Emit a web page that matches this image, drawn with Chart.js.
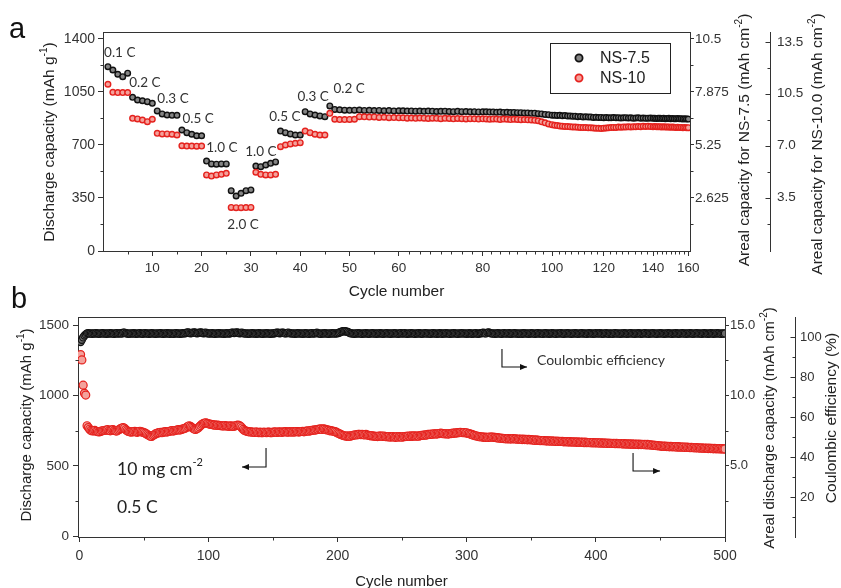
<!DOCTYPE html>
<html><head><meta charset="utf-8">
<script src="https://cdn.jsdelivr.net/npm/chart.js@4/dist/chart.umd.min.js"></script>
<style>
html,body{margin:0;padding:0;background:#fff;overflow:hidden;width:841px;height:588px;}
canvas{position:absolute;left:0;}
#ca{top:0px;} #cb{top:280px;}
</style></head><body>
<canvas id="ca" width="841" height="305"></canvas>
<canvas id="cb" width="841" height="312"></canvas>
<script>
// ---------------- DATA (panel a: rate capability) ----------------
const cyclesA = Array.from({length:160},(_,i)=>i+1);
const ns75 = [
1217,1195,1167,1151,1174,1015,997,992,986,975,
925,905,898,896,896,799,781,771,761,761,
594,575,573,575,575,398,363,381,398,403,
561,557,568,579,588,792,781,773,766,766,
920,905,898,892,887,958,935,932,930,929,
930,931,928,929,927,928,926,927,925,926,
926,924,925,923,924,922,924,923,921,922,
923,921,920,922,920,921,919,920,918,919,
919,917,918,916,917,915,916,914,915,913,
913,911,912,909,910,907,905,902,900,897,
897,895,896,893,894,891,892,889,890,887,
888,885,886,884,885,882,883,881,882,880,
881,879,880,881,879,880,878,879,880,878,
879,877,878,879,877,878,876,877,878,876,
877,875,876,877,875,876,874,875,876,874,
875,873,874,875,873,874,872,873,872,871];
const ns10 = [
1101,1048,1046,1046,1046,876,872,865,854,870,
777,773,773,771,766,695,693,693,692,693,
502,495,502,506,513,288,286,286,287,288,
520,506,502,502,506,689,700,707,711,715,
792,781,771,766,766,909,870,868,868,869,
870,887,886,884,885,882,883,880,881,879,
879,877,878,876,878,877,875,877,876,874,
876,875,873,875,874,872,874,873,871,873,
872,870,872,871,869,871,870,868,870,869,
867,868,866,865,863,860,853,846,839,834,
830,828,825,824,822,822,820,819,818,817,
816,815,815,813,813,812,811,810,809,811,
812,813,815,816,816,818,817,819,818,820,
819,821,820,822,821,823,822,823,822,821,
822,821,820,821,819,820,819,818,819,817,
818,817,816,817,815,816,814,815,813,814];
const seriesNamesA = ['NS-7.5','NS-10'];
const rateLabelsA = [
 {text:'0.1 C', cycle:3.4, value:1307},{text:'0.2 C', cycle:8.5, value:1109},
 {text:'0.3 C', cycle:14.2, value:1004},{text:'0.5 C', cycle:19.3, value:872},
 {text:'1.0 C', cycle:24.1, value:680},{text:'2.0 C', cycle:28.4, value:172},
 {text:'1.0 C', cycle:32.0, value:654},{text:'0.5 C', cycle:36.9, value:885},
 {text:'0.3 C', cycle:42.6, value:1017},{text:'0.2 C', cycle:49.9, value:1070}];
const xTicksA = [10,20,30,40,50,60,80,100,120,140,160];
const yTicksA = [0,350,700,1050,1400];
const y2TicksA = [2.625,5.25,7.875,10.5];
const y2LabelsA = ['2.625','5.25','7.875','10.5'];
const y3TicksA = [3.5,7,10.5,14];
const y3LabelsA = ['3.5','7.0','10.5','13.5'];

// ---------------- DATA (panel b: long cycling at 0.5 C) ----------------
const cyclesB = Array.from({length:500},(_,i)=>i+1);
const capB = [
1290,1252,1073,1015,1003,785,772,760,752,748,
749,752,746,744,741,743,747,749,751,753,
754,757,751,749,755,758,752,749,747,753,
759,764,769,772,767,757,750,744,742,740,
741,743,745,740,738,743,746,742,739,737,
732,727,721,715,711,709,715,721,727,731,
734,736,738,735,739,741,743,740,744,746,
748,750,747,751,753,755,757,754,759,761,
764,767,773,779,785,781,774,767,761,759,
763,769,777,786,795,801,804,806,802,799,
796,794,793,790,791,788,790,787,786,785,
784,783,786,783,782,781,784,782,780,782,
785,788,789,786,779,769,759,751,747,745,
743,741,742,739,738,737,741,737,736,739,
736,735,739,737,735,739,740,736,735,739,
740,741,737,740,742,739,738,742,741,743,
740,739,743,742,739,743,740,744,743,740,
743,744,745,742,746,747,749,746,750,752,
753,755,754,758,759,761,762,759,763,761,
757,755,754,749,750,747,745,743,739,734,
729,725,721,717,714,712,710,713,710,711,
715,717,719,721,720,723,724,721,724,721,
720,723,719,717,715,713,714,711,710,709,
708,711,712,711,709,712,708,707,706,707,
704,707,708,704,703,707,704,708,705,704,
708,707,710,709,712,709,713,710,713,712,
711,712,711,715,717,717,718,720,719,723,
724,723,726,725,728,727,726,730,729,732,
729,730,727,728,727,726,730,729,732,731,
734,733,736,735,738,737,736,737,734,735,
730,729,724,723,718,717,712,712,708,708,
705,706,703,704,702,703,702,705,704,705,
702,703,699,700,697,698,695,696,693,694,
691,694,691,692,691,694,691,692,689,690,
689,690,687,690,687,688,685,688,685,686,
683,684,681,684,681,682,679,680,679,680,
677,678,677,678,675,678,675,676,673,676,
673,674,673,674,671,672,671,672,669,672,
669,670,669,670,667,670,667,668,667,668,
665,668,665,666,665,666,663,666,663,664,
663,664,661,664,661,662,661,662,659,662,
659,660,659,660,657,660,657,658,657,658,
655,658,655,656,655,656,653,656,653,654,
653,654,651,654,651,652,651,652,649,652,
649,650,647,648,645,646,643,644,641,642,
639,640,639,640,637,638,635,638,635,636,
635,636,633,636,633,634,633,634,631,634,
631,632,629,632,629,630,627,630,627,628,
625,628,625,626,625,626,623,626,623,624,
621,624,621,622,621,622,619,622,619,620];
const ceB = [
97.5,98.6,99.8,100.7,101.3,101.8,101.9,101.7,101.8,101.6,
101.8,101.7,101.9,101.8,101.6,101.7,101.8,101.9,101.7,101.8,
101.6,101.8,101.7,101.9,101.8,101.7,101.6,101.8,101.9,101.7,
101.8,101.9,101.7,102.1,102.2,101.9,101.8,101.6,101.7,101.8,
101.7,101.9,101.8,101.6,101.7,101.8,101.9,101.7,101.6,101.8,
101.9,101.7,101.8,101.6,101.7,101.9,101.8,101.7,101.6,101.8,
101.7,101.8,101.9,101.7,101.6,101.8,101.7,101.9,101.8,101.6,
101.8,101.7,101.6,101.8,101.9,101.7,101.8,101.6,101.7,101.9,
101.8,101.9,102.1,102.3,102.2,101.9,102.0,102.2,102.3,102.1,
101.9,102.0,102.2,102.3,102.1,101.9,102.0,102.2,101.9,101.8,
101.7,101.8,101.9,101.7,101.6,101.8,101.7,101.9,101.8,101.7,
101.8,101.6,101.7,101.9,101.8,101.7,101.9,102.1,102.2,102.0,
102.2,102.3,102.1,101.9,102.0,102.2,101.9,101.8,101.7,101.8,
101.6,101.7,101.8,101.9,101.7,101.8,101.6,101.7,101.9,101.8,
101.7,101.6,101.8,101.7,101.9,101.8,101.7,101.6,101.8,101.7,
101.9,102.0,102.2,102.1,101.9,102.0,102.2,102.1,101.9,101.8,
102.0,102.2,101.9,101.8,101.7,101.8,101.6,101.7,101.9,101.8,
101.7,101.8,101.6,101.7,101.9,101.8,101.7,101.6,101.8,101.9,
101.7,101.8,101.9,102.1,101.8,101.7,101.6,101.8,101.7,101.9,
101.8,101.7,101.6,101.8,101.7,101.9,101.8,101.7,101.8,101.9,
102.1,102.4,102.7,102.9,102.8,102.9,102.7,102.5,102.2,101.9,
101.8,101.7,101.6,101.8,101.7,101.9,101.8,101.7,101.6,101.8,
101.7,101.9,101.8,101.6,101.7,101.8,101.9,101.7,101.8,101.6,
101.8,101.7,101.9,101.8,101.6,101.7,101.8,101.9,101.7,101.8,
101.6,101.8,101.7,101.9,101.8,101.7,101.6,101.8,101.9,101.7,
101.8,101.9,101.7,101.6,101.8,101.7,101.9,101.8,101.7,101.6,
101.8,101.7,101.9,101.8,101.6,101.7,101.8,101.9,101.7,101.8,
101.7,101.6,101.8,101.9,101.7,101.8,101.6,101.7,101.9,101.8,
101.6,101.8,101.7,101.9,101.8,101.7,101.6,101.8,101.7,101.9,
101.8,101.7,101.6,101.8,101.7,101.9,101.8,101.7,101.8,101.6,
101.7,101.9,101.8,101.6,101.7,101.8,101.9,101.7,101.6,101.8,
101.9,102.0,102.1,101.9,101.8,102.2,102.3,102.0,101.8,101.7,
101.8,101.6,101.7,101.9,101.8,101.7,101.6,101.8,101.9,101.7,
101.8,101.7,101.9,101.6,101.7,101.8,101.9,101.7,101.8,101.6,
101.7,101.8,101.6,101.9,101.8,101.7,101.8,101.6,101.7,101.9,
101.8,101.7,101.6,101.8,101.9,101.7,101.8,101.7,101.6,101.8,
101.9,101.7,101.8,101.6,101.7,101.9,101.8,101.7,101.6,101.8,
101.7,101.8,101.9,101.7,101.6,101.8,101.7,101.9,101.8,101.7,
101.6,101.8,101.7,101.9,101.8,101.6,101.7,101.8,101.9,101.7,
101.8,101.7,101.6,101.8,101.9,101.7,101.8,101.6,101.7,101.9,
101.8,101.7,101.9,101.8,101.6,101.7,101.8,101.9,101.7,101.6,
101.8,101.7,101.6,101.8,101.9,101.7,101.8,101.7,101.6,101.8,
101.7,101.9,101.8,101.6,101.7,101.8,101.9,101.7,101.8,101.6,
101.8,101.7,101.9,101.8,101.6,101.7,101.8,101.9,101.7,101.8,
101.6,101.8,101.7,101.9,101.8,101.7,101.6,101.8,101.7,101.9,
101.8,101.7,101.6,101.8,101.7,101.9,101.8,101.7,101.6,101.8,
101.7,101.9,101.8,101.6,101.7,101.8,101.9,101.7,101.8,101.6,
101.8,101.7,101.9,101.8,101.6,101.7,101.8,101.9,101.7,101.8,
101.7,101.6,101.8,101.9,101.7,101.8,101.6,101.7,101.9,101.8,
101.6,101.8,101.7,101.9,101.8,101.7,101.6,101.8,101.7,101.8];
const xTicksB = [0,100,200,300,400,500];
const yTicksB = [0,500,1000,1500];
const y2TicksB = [5,10,15];
const y2LabelsB = ['5.0','10.0','15.0'];
const ceTicksB = [20,40,60,80,100];

// ---------------- STYLE / HELPERS ----------------
const FONT = "'Liberation Sans', Arial, sans-serif";
const LATO = "Lato, 'Open Sans', sans-serif";
const AX = '#333';
Chart.defaults.font.family = FONT;
Chart.defaults.color = '#333';

// Piecewise axis used by panel a (linear to 60 cycles, compressed afterwards)
const xWarpKnots = [[0,0],[60,0.504],[80,0.647],[100,0.765],[120,0.853],[140,0.937],[160,0.997]];
function warpDec(v){
  const k=xWarpKnots;
  let i=1; while(i<k.length-1 && v>k[i][0]) i++;
  const a=k[i-1], b=k[i];
  return a[1]+(v-a[0])*(b[1]-a[1])/(b[0]-a[0]);
}
function unwarp(d){
  const k=xWarpKnots;
  let i=1; while(i<k.length-1 && d>k[i][1]) i++;
  const a=k[i-1], b=k[i];
  return a[0]+(d-a[1])*(b[0]-a[0])/(b[1]-a[1]);
}
class WarpScale extends Chart.LinearScale {
  getPixelForValue(v){ return (v===null||v===undefined||isNaN(v)) ? NaN : this.getPixelForDecimal(warpDec(v)); }
  getValueForPixel(p){ return unwarp(this.getDecimalForPixel(p)); }
}
WarpScale.id = 'warp';
WarpScale.defaults = Chart.LinearScale.defaults;
Chart.register(WarpScale);

function minorRange(a,b,step,majors){
  const out=[]; for(let v=a; v<=b+1e-9; v+=step){ const r=Math.round(v*1000)/1000; if(!majors.some(m=>Math.abs(m-r)<1e-6)) out.push(r);} return out;
}
const al = v => Math.round(v)+0.5;
function tickMarks(ctx, s, values, side, len){
  ctx.beginPath();
  for(const v of values){
    const p = al(s.getPixelForValue(v));
    if(side==='bottom'){ const y=al(s.top); ctx.moveTo(p,y-0.5); ctx.lineTo(p,y+len); }
    else if(side==='left'){ const x=al(s.right); ctx.moveTo(x+0.5,p); ctx.lineTo(x-len,p); }
    else if(side==='right'){ const x=al(s.left); ctx.moveTo(x-0.5,p); ctx.lineTo(x+len,p); }
    else { const x=al(s.left); ctx.moveTo(x+0.5,p); ctx.lineTo(x-len,p); }
  }
  ctx.stroke();
}
function richText(ctx, x, y, parts, size, family, color, align, rotate){
  ctx.save(); ctx.translate(x,y); if(rotate) ctx.rotate(-Math.PI/2);
  const fM = size+'px '+family, fS = Math.round(size*0.65)+'px '+family;
  let total=0; for(const p of parts){ ctx.font=p.sup?fS:fM; total+=ctx.measureText(p.t).width; }
  let cx = align==='center' ? -total/2 : 0;
  ctx.fillStyle=color; ctx.textBaseline='middle'; ctx.textAlign='left';
  for(const p of parts){ ctx.font=p.sup?fS:fM; ctx.fillText(p.t,cx,p.sup?-size*0.38:0); cx+=ctx.measureText(p.t).width; }
  ctx.restore();
}
function arrow(ctx, pts){
  ctx.beginPath(); ctx.moveTo(pts[0][0],pts[0][1]);
  for(let i=1;i<pts.length;i++) ctx.lineTo(pts[i][0],pts[i][1]);
  ctx.stroke();
  const [x1,y1]=pts[pts.length-2], [x2,y2]=pts[pts.length-1];
  const ang=Math.atan2(y2-y1,x2-x1), L=7, W=3;
  ctx.beginPath(); ctx.moveTo(x2,y2);
  ctx.lineTo(x2-L*Math.cos(ang)+W*Math.sin(ang), y2-L*Math.sin(ang)-W*Math.cos(ang));
  ctx.lineTo(x2-L*Math.cos(ang)-W*Math.sin(ang), y2-L*Math.sin(ang)+W*Math.cos(ang));
  ctx.closePath(); ctx.fill();
}
function axisCommon(extra){
  return Object.assign({
    grid:{drawOnChartArea:false, tickLength:5, tickColor:AX, tickWidth:1},
    border:{color:AX, width:1}
  }, extra);
}

const blackPt = {pointRadius:2.8, pointBorderWidth:1.4, pointBorderColor:'#111', pointBackgroundColor:'#858585'};
const redPt = {pointRadius:2.8, pointBorderWidth:1.4, pointBorderColor:'#e5221e', pointBackgroundColor:'#f4a19b'};

// ---------------- PANEL A ----------------
const yMaxA = 1446;
const xMinorA = minorRange(5,55,10,[]).concat(minorRange(62.5,157.5,2.5,xTicksA));
const decorA = {
  id:'decorA',
  afterDraw(chart){
    const c=chart.ctx, ca=chart.chartArea, S=chart.scales;
    c.save();
    c.strokeStyle=AX; c.fillStyle=AX; c.lineWidth=1;
    c.beginPath(); c.moveTo(al(ca.left)-0.5, al(ca.top)); c.lineTo(al(ca.right)+0.5, al(ca.top)); c.stroke();
    tickMarks(c, S.x, xMinorA, 'bottom', 3);
    tickMarks(c, S.y, minorRange(175,1400,350,[]), 'left', 3);
    tickMarks(c, S.y2, [1.3125,3.9375,6.5625,9.1875], 'right', 3);
    tickMarks(c, S.y3, y3TicksA, 'in', 5);
    tickMarks(c, S.y3, [1.75,5.25,8.75,12.25], 'in', 3);
    // rate labels
    c.font = '13.5px '+LATO; c.fillStyle='#333'; c.textAlign='center'; c.textBaseline='middle';
    for(const r of rateLabelsA) c.fillText(r.text, S.x.getPixelForValue(r.cycle), S.y.getPixelForValue(r.value));
    // legend
    c.strokeStyle='#222'; c.lineWidth=1; c.strokeRect(550.5,43.5,120,50);
    const legendStyles=[blackPt, redPt];
    seriesNamesA.forEach((n,i)=>{
      const st=legendStyles[i], y=58+i*20;
      c.beginPath(); c.arc(579,y,3.6,0,Math.PI*2); c.fillStyle=st.pointBackgroundColor; c.fill();
      c.lineWidth=1.8; c.strokeStyle=st.pointBorderColor; c.stroke();
      c.fillStyle='#222'; c.font='16px '+FONT; c.textAlign='left'; c.textBaseline='middle';
      c.fillText(n, 600, y+1);
    });
    // axis titles
    richText(c, 50, 142, [{t:'Discharge capacity (mAh g'},{t:'-1',sup:1},{t:')'}], 15.5, FONT, '#222','center',true);
    richText(c, 745, 140, [{t:'Areal capacity for NS-7.5 (mAh cm'},{t:'-2',sup:1},{t:')'}], 15.5, FONT, '#222','center',true);
    richText(c, 818, 144, [{t:'Areal capacity for NS-10.0 (mAh cm'},{t:'-2',sup:1},{t:')'}], 15.5, FONT, '#222','center',true);
    c.fillStyle='#111'; c.font='29px '+FONT; c.textAlign='left'; c.textBaseline='alphabetic';
    c.fillText('a', 9, 38);
    c.restore();
  }
};
new Chart(document.getElementById('ca'), {
  type:'scatter',
  data:{datasets:[
    Object.assign({label:seriesNamesA[0], data:cyclesA.map((c,i)=>({x:c,y:ns75[i]})), order:2, yAxisID:'y'}, blackPt),
    Object.assign({label:seriesNamesA[1], data:cyclesA.map((c,i)=>({x:c,y:ns10[i]})), order:1, yAxisID:'y'}, redPt)
  ]},
  options:{
    responsive:false, animation:false, events:[],
    layout:{padding:{top:32,left:0,right:0,bottom:0}},
    plugins:{legend:{display:false}, tooltip:{enabled:false}},
    scales:{
      x: axisCommon({type:'warp', position:'bottom', min:0, max:160,
        afterBuildTicks:s=>{s.ticks=xTicksA.map(v=>({value:v}));},
        afterFit:s=>{s.height=54;},
        ticks:{autoSkip:false, maxRotation:0, padding:4, color:'#333', font:{size:13.5}, callback:v=>String(v)},
        title:{display:true, text:'Cycle number', color:'#222', font:{size:15.5}, padding:{top:0,bottom:4}}}),
      y: axisCommon({position:'left', min:0, max:yMaxA,
        afterBuildTicks:s=>{s.ticks=yTicksA.map(v=>({value:v}));},
        afterFit:s=>{s.width=103;},
        ticks:{autoSkip:false, padding:3, color:'#333', font:{size:14}, callback:v=>String(v)}}),
      y2: axisCommon({position:'right', weight:1, min:0, max:yMaxA*0.0075,
        grid:{drawOnChartArea:false, tickLength:4, tickColor:AX},
        afterBuildTicks:s=>{s.ticks=y2TicksA.map(v=>({value:v}));},
        afterFit:s=>{s.width=80;},
        ticks:{autoSkip:false, padding:1, color:'#333', font:{size:13.5}, callback:(v,i)=>y2LabelsA[i]}}),
      y3: axisCommon({position:'right', weight:2, min:-0.1, max:14.66,
        grid:{display:false, drawTicks:false, tickLength:0},
        afterBuildTicks:s=>{s.ticks=y3TicksA.map(v=>({value:v}));},
        afterFit:s=>{s.width=71;},
        ticks:{autoSkip:false, padding:7, color:'#333', font:{size:13.5}, callback:(v,i)=>y3LabelsA[i]}})
    }
  },
  plugins:[decorA]
});

// ---------------- PANEL B ----------------
const annB = {
  arrows:[
    [[144.6,627],[144.6,492],[126.0,492]],
    [[327.3,1330],[327.3,1202],[346.7,1202]],
    [[428.8,591],[428.8,464],[449.7,464]]
  ]
};
const decorB = {
  id:'decorB',
  afterDraw(chart){
    const c=chart.ctx, ca=chart.chartArea, S=chart.scales;
    c.save();
    c.strokeStyle=AX; c.fillStyle=AX; c.lineWidth=1;
    c.beginPath(); c.moveTo(al(ca.left)-0.5, al(ca.top)); c.lineTo(al(ca.right)+0.5, al(ca.top)); c.stroke();
    tickMarks(c, S.x, [50,150,250,350,450], 'bottom', 3);
    tickMarks(c, S.y, [250,750,1250], 'left', 3);
    tickMarks(c, S.y2, [2.5,7.5,12.5], 'right', 3);
    tickMarks(c, S.yCE, ceTicksB, 'in', 5);
    tickMarks(c, S.yCE, [10,30,50,70,90], 'in', 3);
    // arrows
    c.strokeStyle='#111'; c.fillStyle='#111'; c.lineWidth=1.1;
    for(const a of annB.arrows) arrow(c, a.map(p=>[S.x.getPixelForValue(p[0]), S.y.getPixelForValue(p[1])]));
    // texts
    richText(c, S.x.getPixelForValue(354.4), S.y.getPixelForValue(1245), [{t:'Coulombic efficiency'}], 14, LATO, '#333','left',false);
    richText(c, S.x.getPixelForValue(29.2), S.y.getPixelForValue(478), [{t:'10 mg cm'},{t:'-2',sup:1}], 17.5, LATO, '#222','left',false);
    richText(c, S.x.getPixelForValue(29.2), S.y.getPixelForValue(208), [{t:'0.5 C'}], 17.5, LATO, '#222','left',false);
    // axis titles
    richText(c, 27, 145, [{t:'Discharge capacity (mAh g'},{t:'-1',sup:1},{t:')'}], 15, FONT, '#222','center',true);
    richText(c, 770, 148, [{t:'Areal discharge capacity (mAh cm'},{t:'-2',sup:1},{t:')'}], 15, FONT, '#222','center',true);
    richText(c, 832, 138, [{t:'Coulombic efficiency (%)'}], 15.5, FONT, '#222','center',true);
    c.fillStyle='#111'; c.font='29px '+FONT; c.textAlign='left'; c.textBaseline='alphabetic';
    c.fillText('b', 11, 28);
    c.restore();
  }
};
const blackPtB = {pointRadius:3.6, pointBorderWidth:1.2, pointBorderColor:'#111', pointBackgroundColor:'#6e6e6e'};
const redPtB = {pointRadius:4.0, pointBorderWidth:1.2, pointBorderColor:'#e5221e', pointBackgroundColor:'#f3a29c'};
new Chart(document.getElementById('cb'), {
  type:'scatter',
  data:{datasets:[
    Object.assign({label:'Coulombic efficiency', data:cyclesB.map((c,i)=>({x:c,y:ceB[i]})), order:2, yAxisID:'yCE'}, blackPtB),
    Object.assign({label:'Discharge capacity', data:cyclesB.map((c,i)=>({x:c,y:capB[i]})), order:1, yAxisID:'y'}, redPtB)
  ]},
  options:{
    responsive:false, animation:false, events:[],
    layout:{padding:{top:37,left:0,right:0,bottom:0}},
    plugins:{legend:{display:false}, tooltip:{enabled:false}},
    scales:{
      x: axisCommon({type:'linear', position:'bottom', min:-1, max:500,
        afterBuildTicks:s=>{s.ticks=xTicksB.map(v=>({value:v}));},
        afterFit:s=>{s.height=55;},
        ticks:{autoSkip:false, maxRotation:0, padding:6, color:'#333', font:{size:14}, callback:v=>String(v)},
        title:{display:true, text:'Cycle number', color:'#222', font:{size:15}, padding:{top:0,bottom:1}}}),
      y: axisCommon({position:'left', min:-5, max:1557,
        afterBuildTicks:s=>{s.ticks=yTicksB.map(v=>({value:v}));},
        afterFit:s=>{s.width=78;},
        ticks:{autoSkip:false, padding:4, color:'#333', font:{size:13.5}, callback:v=>String(v)}}),
      y2: axisCommon({position:'right', weight:1, min:-0.05, max:15.57,
        grid:{drawOnChartArea:false, tickLength:4, tickColor:AX},
        afterBuildTicks:s=>{s.ticks=y2TicksB.map(v=>({value:v}));},
        afterFit:s=>{s.width=70;},
        ticks:{autoSkip:false, padding:1, color:'#333', font:{size:13}, callback:(v,i)=>y2LabelsB[i]}}),
      yCE: axisCommon({position:'right', weight:2, min:0, max:110,
        grid:{display:false, drawTicks:false, tickLength:0},
        afterBuildTicks:s=>{s.ticks=ceTicksB.map(v=>({value:v}));},
        afterFit:s=>{s.width=46;},
        ticks:{autoSkip:false, padding:5, color:'#333', font:{size:13}, callback:v=>String(v)}})
    }
  },
  plugins:[decorB]
});
</script>
</body></html>
